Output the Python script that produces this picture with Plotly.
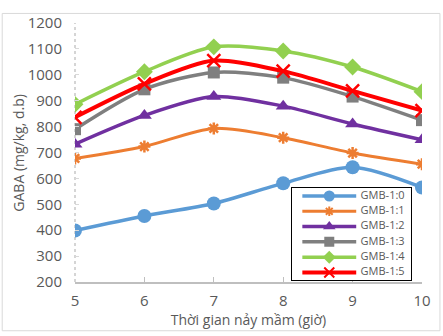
import plotly.graph_objects as go

hours = [5, 6, 7, 8, 9, 10]
series_names = ["GMB-1:0", "GMB-1:1", "GMB-1:2", "GMB-1:3", "GMB-1:4", "GMB-1:5"]
gmb_1_0 = [399, 455, 503, 581, 643, 565]
gmb_1_1 = [677, 723, 793, 757, 698, 655]
gmb_1_2 = [732, 843, 916, 879, 810, 749]
gmb_1_3 = [790, 944, 1009, 989, 916, 825]
gmb_1_4 = [886, 1012, 1108, 1092, 1030, 935]
gmb_1_5 = [836, 965, 1055, 1014, 938, 862]
y_ticks = [200, 300, 400, 500, 600, 700, 800, 900, 1000, 1100, 1200]

values = [gmb_1_0, gmb_1_1, gmb_1_2, gmb_1_3, gmb_1_4, gmb_1_5]
colors = ["#5B9BD5", "#ED7D31", "#7030A0", "#7F7F7F", "#92D050", "#FF0000"]
symbols = ["circle", "asterisk-open", "triangle-up", "square", "diamond", "x-thin-open"]
msizes = [14, 10, 13, 12, 13, 13]
lwidths = [3.5, 3, 3.5, 3.5, 3.5, 4]
leg_msizes = [11, 8, 11, 10, 10, 10]

# pixel geometry of the plot area
L, R, T, B = 75, 423, 12, 283
W, H = R - L, B - T
def px_x(p):
    return (p - L) / W
def px_y(p):
    return (B - p) / H

fig = go.Figure()
for name, vals, c, s, ms, lw in zip(series_names, values, colors, symbols, msizes, lwidths):
    open_sym = s.endswith("open")
    fig.add_trace(go.Scatter(
        x=hours, y=vals, name=name, mode="lines+markers", showlegend=False,
        line=dict(color=c, width=lw, shape="spline", smoothing=0.8),
        marker=dict(symbol=s, size=ms, color=c,
                    line=dict(color=c, width=2.5 if open_sym else 0)),
    ))

# legend drawn on a small helper axis (row index = series index)
for i, (name, c, s, ms, lw) in enumerate(zip(series_names, colors, symbols, leg_msizes, lwidths)):
    open_sym = s.endswith("open")
    row = i + 0.5
    fig.add_trace(go.Scatter(
        x=[0.084, 0.538], y=[row, row], mode="lines", showlegend=False, hoverinfo="skip",
        line=dict(color=c, width=lw), xaxis="x2", yaxis="y2"))
    fig.add_trace(go.Scatter(
        x=[0.311], y=[row], mode="markers", showlegend=False, hoverinfo="skip",
        marker=dict(symbol=s, size=ms, color=c, line=dict(color=c, width=2 if open_sym else 0)),
        xaxis="x2", yaxis="y2"))
    fig.add_trace(go.Scatter(
        x=[0.575], y=[row], mode="text", text=[name], textposition="middle right",
        textfont=dict(size=11, color="#595959"), showlegend=False, hoverinfo="skip",
        xaxis="x2", yaxis="y2"))

font_fam = "Open Sans, Lato, sans-serif"
fig.update_layout(
    width=443, height=336,
    margin=dict(l=L, r=443 - R, t=T, b=336 - B),
    paper_bgcolor="white", plot_bgcolor="white",
    font=dict(family=font_fam, color="#595959"),
    showlegend=False,
    xaxis=dict(range=[5, 10], tickvals=hours, ticktext=[str(h) for h in hours],
               showgrid=False, zeroline=False,
               showline=True, linecolor="#BFBFBF", linewidth=1.5,
               ticks="inside", ticklen=5, tickcolor="#BFBFBF",
               ticklabelstandoff=4,
               tickfont=dict(size=15, color="#595959"),
               title=dict(text="Thời gian nảy mầm (giờ)", font=dict(size=14, color="#595959"), standoff=4)),
    yaxis=dict(range=[200, 1200], tickvals=y_ticks,
               showgrid=False, zeroline=False,
               showline=False,
               ticks="inside", ticklen=4, tickcolor="#D9D9D9",
               ticklabelstandoff=12,
               tickfont=dict(size=15, color="#595959")),
    xaxis2=dict(domain=[px_x(293), px_x(412)], range=[0, 1], anchor="y2",
                showgrid=False, zeroline=False, showticklabels=False, ticks="",
                showline=True, mirror=True, linecolor="black", linewidth=1, fixedrange=True),
    yaxis2=dict(domain=[px_y(281), px_y(185)], range=[6, 0], anchor="x2",
                showgrid=False, zeroline=False, showticklabels=False, ticks="",
                showline=True, mirror=True, linecolor="black", linewidth=1, fixedrange=True),
)
# y axis title
fig.add_annotation(text="GABA (mg/kg, d.b)", xref="paper", yref="paper",
                   x=px_x(18), y=0.5, textangle=-90, showarrow=False,
                   xanchor="center", yanchor="middle",
                   font=dict(size=14, color="#595959"))
# white background of the legend box
fig.add_shape(type="rect", xref="x2", yref="y2", x0=0, x1=1, y0=0, y1=6,
              fillcolor="white", line=dict(width=0), layer="below")
# dotted y axis line
fig.add_shape(type="line", xref="paper", yref="paper", x0=0, x1=0, y0=0, y1=1,
              line=dict(color="#C8C8C8", width=1.5, dash="dot"), layer="below")
# outer chart border
fig.add_shape(type="rect", xref="paper", yref="paper",
              x0=px_x(2), x1=px_x(441), y0=px_y(334), y1=px_y(2),
              line=dict(color="#D9D9D9", width=1))

fig.write_html("out.html")
